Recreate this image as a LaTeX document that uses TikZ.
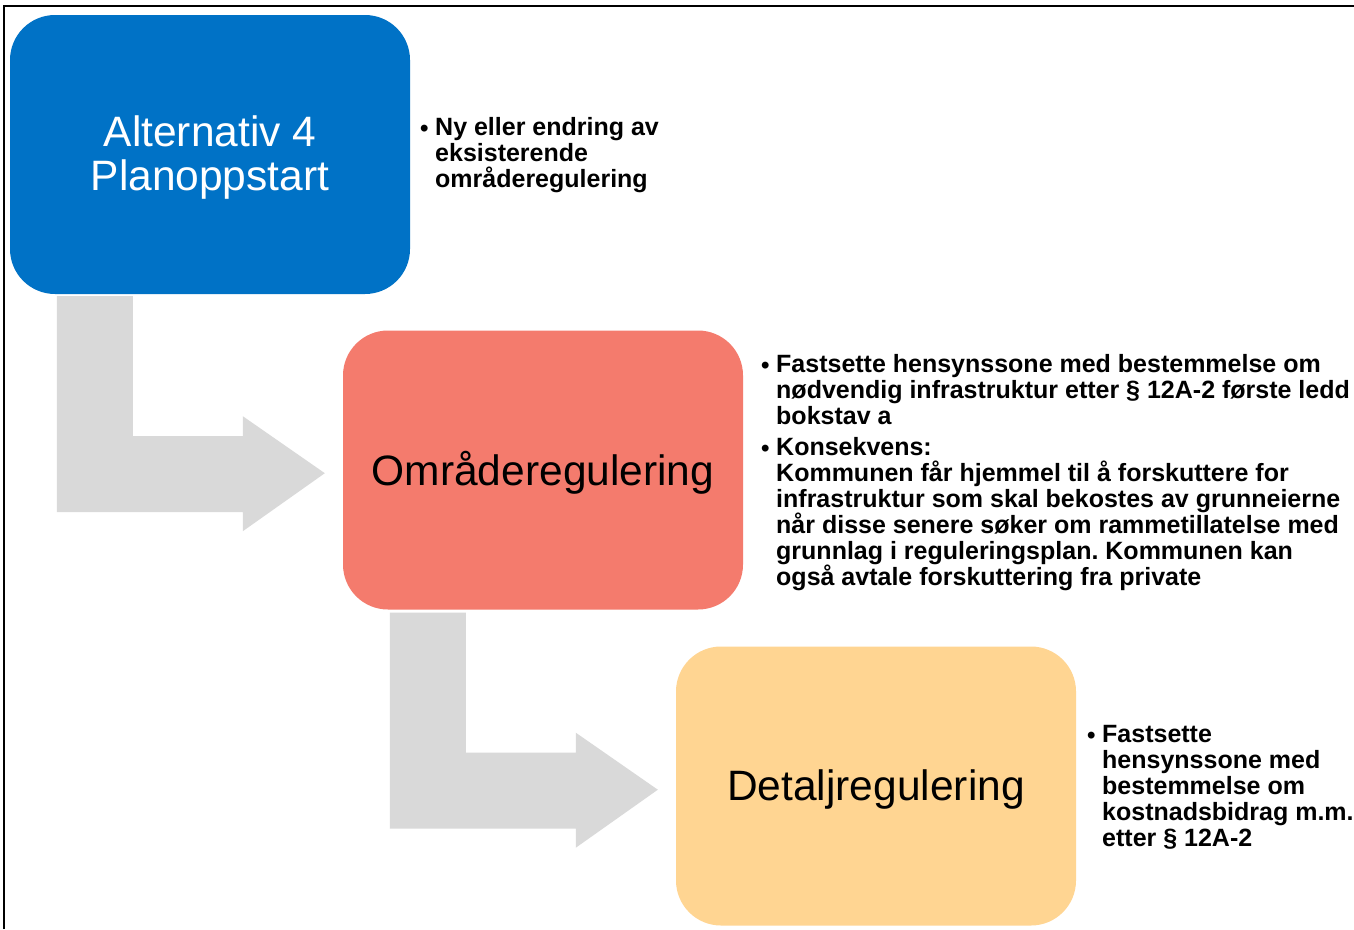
\documentclass[tikz,border=0pt]{standalone}
\usepackage{fontspec}
\setmainfont{Liberation Sans}
\usetikzlibrary{calc}
\frenchspacing
\definecolor{boxblue}{RGB}{0,114,198}
\definecolor{boxred}{RGB}{244,123,109}
\definecolor{boxyellow}{RGB}{255,213,146}
\definecolor{arrowgray}{RGB}{217,217,217}
\newcommand{\bul}{\makebox[15pt][l]{\raisebox{-1pt}{\fontsize{24}{24}\selectfont •}}}
\newcommand{\blines}[1]{\vtop{\baselineskip=26pt\lineskiplimit=-\maxdimen\lineskip=0pt\halign{##&##\hfil\cr #1\crcr}}}
\tikzset{
  stepbox/.style={rounded corners=45pt, minimum width=400pt, minimum height=279pt, inner sep=0pt},
  boxlabel/.style={inner sep=0pt, align=center, font=\fontsize{42.5}{44}\selectfont},
  bendarrow/.style={fill=arrowgray, draw=none},
  bullettext/.style={anchor=base west, inner sep=0pt, font=\fontsize{25}{26}\selectfont\bfseries},
  frame/.style={line width=2.5pt, draw=black}
}
\begin{document}
\begin{tikzpicture}[x=1pt,y=-1pt]
\useasboundingbox (0,0) rectangle (1354,929);
\fill[white] (0,0) rectangle (1354,929);
\draw[frame] (4,929) -- (4,6) -- (1354,6);

\node[stepbox, fill=boxblue] (b1) at (210,154.5) {};
\node[stepbox, fill=boxred] (b2) at (543,470) {};
\node[stepbox, fill=boxyellow] (b3) at (876,786) {};
\node[boxlabel, text=white] (l1) at ($(b1.center)+(0,3)$) {Alternativ 4\\Planoppstart};
\node[boxlabel, text=black] (l2) at ($(b2.center)+(0,3)$) {Områderegulering};
\node[boxlabel, text=black] (l3) at ($(b3.center)+(0,3)$) {Detaljregulering};

\fill[bendarrow] ($(b1.south west)+(47,2)$) -- ++(76,0) -- ++(0,140) -- ++(110,0) -- ++(0,-20) -- ++(82,57) -- ++(-82,58) -- ++(0,-19) -- ++(-186,0) -- cycle;
\fill[bendarrow] ($(b2.south west)+(47,3)$) -- ++(76,0) -- ++(0,140) -- ++(110,0) -- ++(0,-20) -- ++(82,57) -- ++(-82,58) -- ++(0,-19) -- ++(-186,0) -- cycle;

\node[bullettext] (t1) at (420,135) {\blines{
\bul & Ny eller endring av\cr
 & eksisterende\cr
 & områderegulering}};

\node[bullettext] (t2) at (761,372) {\blines{
\bul & Fastsette hensynssone med bestemmelse om\cr
 & nødvendig infrastruktur etter § 12A-2 første ledd\cr
 & bokstav a\cr
\noalign{\vskip5pt}
\bul & Konsekvens:\cr
 & Kommunen får hjemmel til å forskuttere for\cr
 & infrastruktur som skal bekostes av grunneierne\cr
 & når disse senere søker om rammetillatelse med\cr
 & grunnlag i reguleringsplan. Kommunen kan\cr
 & også avtale forskuttering fra private}};

\node[bullettext] (t3) at (1087,742) {\blines{
\bul & Fastsette\cr
 & hensynssone med\cr
 & bestemmelse om\cr
 & kostnadsbidrag m.m.\cr
 & etter § 12A-2}};
\end{tikzpicture}
\end{document}
